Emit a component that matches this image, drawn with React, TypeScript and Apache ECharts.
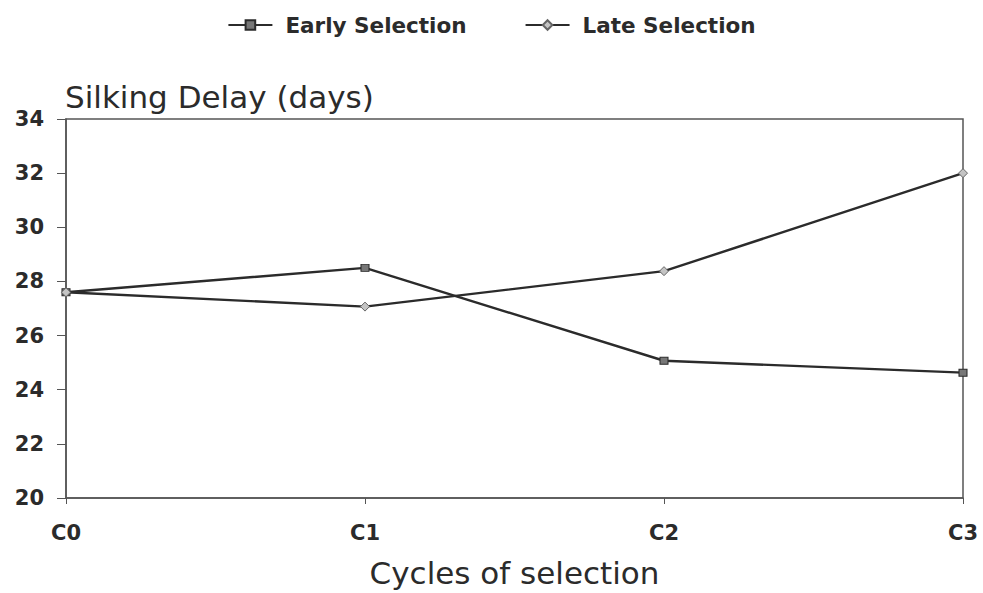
import React, { useEffect, useRef } from "react";
import * as echarts from "echarts";

const cycles = ["C0", "C1", "C2", "C3"];
const earlySelection = [27.6, 28.5, 25.07, 24.63];
const lateSelection = [27.6, 27.07, 28.38, 32.0];
const yTicks = { min: 20, max: 34, interval: 2 };

const FONT = "'DejaVu Sans', Verdana, sans-serif";
const INK = "#2b2b2b";
const AXIS = "#555555";

export default function App() {
  const ref = useRef<HTMLDivElement>(null);

  useEffect(() => {
    if (!ref.current) return;
    const chart = echarts.init(ref.current, undefined, { renderer: "svg" });
    chart.setOption({
      animation: false,
      backgroundColor: "#ffffff",
      textStyle: { fontFamily: FONT },
      title: {
        text: "Silking Delay (days)",
        left: 60,
        top: 76,
        textStyle: { fontFamily: FONT, fontSize: 31, fontWeight: "normal", color: INK },
      },
      legend: {
        top: 9,
        left: "center",
        itemGap: 58,
        itemWidth: 44,
        itemHeight: 12,
        textStyle: { fontFamily: FONT, fontSize: 21.5, fontWeight: "bold", color: INK, padding: [0, 0, 0, 8] },
        data: ["Early Selection", "Late Selection"],
      },
      grid: {
        left: 66,
        right: 20,
        top: 119,
        bottom: 90,
        show: true,
        borderColor: AXIS,
        borderWidth: 1.5,
      },
      xAxis: {
        type: "category",
        data: cycles,
        boundaryGap: false,
        name: "Cycles of selection",
        nameLocation: "middle",
        nameGap: 59,
        nameTextStyle: { fontFamily: FONT, fontSize: 31, color: INK },
        axisLine: { lineStyle: { color: AXIS, width: 1.5 } },
        axisTick: { show: true, length: 6, lineStyle: { color: AXIS } },
        axisLabel: { fontFamily: FONT, fontSize: 21, fontWeight: "bold", color: INK, margin: 24 },
        splitLine: { show: false },
      },
      yAxis: {
        type: "value",
        min: yTicks.min,
        max: yTicks.max,
        interval: yTicks.interval,
        axisLine: { show: true, lineStyle: { color: AXIS, width: 1.5 } },
        axisTick: { show: true, length: 9, lineStyle: { color: AXIS } },
        axisLabel: { fontFamily: FONT, fontSize: 21, fontWeight: "bold", color: INK, margin: 22 },
        splitLine: { show: false },
      },
      series: [
        {
          name: "Early Selection",
          type: "line",
          data: earlySelection,
          symbol: "rect",
          symbolSize: [8, 7],
          lineStyle: { color: INK, width: 2.4 },
          itemStyle: { color: "#777777", borderColor: INK, borderWidth: 1 },
        },
        {
          name: "Late Selection",
          type: "line",
          data: lateSelection,
          symbol: "diamond",
          symbolSize: 9,
          lineStyle: { color: INK, width: 2.4 },
          itemStyle: { color: "#c4c4c4", borderColor: "#666666", borderWidth: 1 },
        },
      ],
    });
    return () => chart.dispose();
  }, []);

  return <div ref={ref} style={{ width: 983, height: 593, position: "absolute", left: 0, top: 0 }} />;
}
